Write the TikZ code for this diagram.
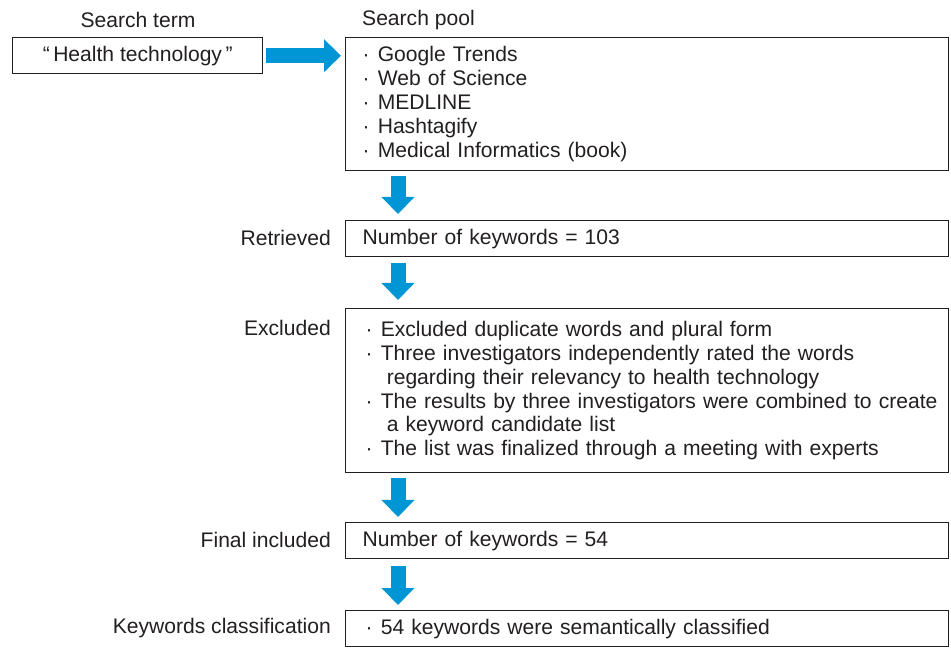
\documentclass[tikz,border=0pt]{standalone}
\usepackage{fontspec}
\setmainfont{Liberation Sans}
\usetikzlibrary{arrows.meta,calc}
\definecolor{flowblue}{RGB}{0,150,214}
\definecolor{ink}{RGB}{35,31,32}
\newcommand{\bul}{\makebox[8.6pt][l]{·}}

\begin{document}
\begin{tikzpicture}[
x=0.02cm, y=-0.02cm,
every node/.style={font=\fontsize{12}{13.6}\selectfont, text=ink},
box/.style={draw=ink, line width=0.8pt, rectangle, anchor=north west, minimum width=12.06cm, minimum height=0.72cm, inner xsep=0.34cm, text width=11.38cm, align=left},
sidelabel/.style={anchor=east},
bluearrow/.style={draw=flowblue, line width=0.3cm, -{Triangle[length=0.34cm, width=0.64cm]}}
]
    \useasboundingbox (0,0) rectangle (951,651);

    % search term and pool
    \node (termlbl) at (138,20) {Search term};
    \node[draw=ink, line width=0.8pt, anchor=north west, minimum width=5cm, minimum height=0.72cm] (term) at (12,37) {“\,Health technology\,”};
    \node[anchor=west] (poollbl) at (356,20) {Search pool};
    \node[box, minimum height=2.66cm] (pool) at (345,37) {\bul Google Trends\\ \bul Web of Science\\ \bul MEDLINE\\ \bul Hashtagify\\ \bul Medical Informatics (book)};

    % steps
    \node[box] (retr) at (345,220) {Number of keywords = 103};
    \node[box, minimum height=3.28cm, inner xsep=0.40cm, text width=11.26cm] (excl) at (345,308) {\bul Excluded duplicate words and plural form\\ \bul Three investigators independently rated the words\\ \hspace*{12pt}regarding their relevancy to health technology\\ \mbox{\bul The results by three investigators were combined to create}\\ \hspace*{12pt}a keyword candidate list\\ \bul The list was finalized through a meeting with experts};
    \node[box] (fin) at (345,522) {Number of keywords = 54};
    \node[box, inner xsep=0.40cm, text width=11.26cm] (cls) at (345,610) {\bul 54 keywords were semantically classified};

    % labels on the left
    \node[sidelabel] (retrlbl) at (337,238) {Retrieved};
    \node[sidelabel] (excllbl) at (337,328) {Excluded};
    \node[sidelabel] (finlbl) at (337,540) {Final included};
    \node[sidelabel] (clslbl) at (337,628) {Keywords classification};

    % arrows
    \draw[bluearrow] ([xshift=3*0.02cm]term.east) -- ([xshift=-4*0.02cm]pool.west |- term.east);
    \draw[bluearrow] ($(pool.south west)+(53,5)$) -- ($(retr.north west)+(53,-6)$);
    \draw[bluearrow] ($(retr.south west)+(53,6)$) -- ($(excl.north west)+(53,-8)$);
    \draw[bluearrow] ($(excl.south west)+(53,5)$) -- ($(fin.north west)+(53,-5)$);
    \draw[bluearrow] ($(fin.south west)+(53,7)$) -- ($(cls.north west)+(53,-5)$);
\end{tikzpicture}
\end{document}
